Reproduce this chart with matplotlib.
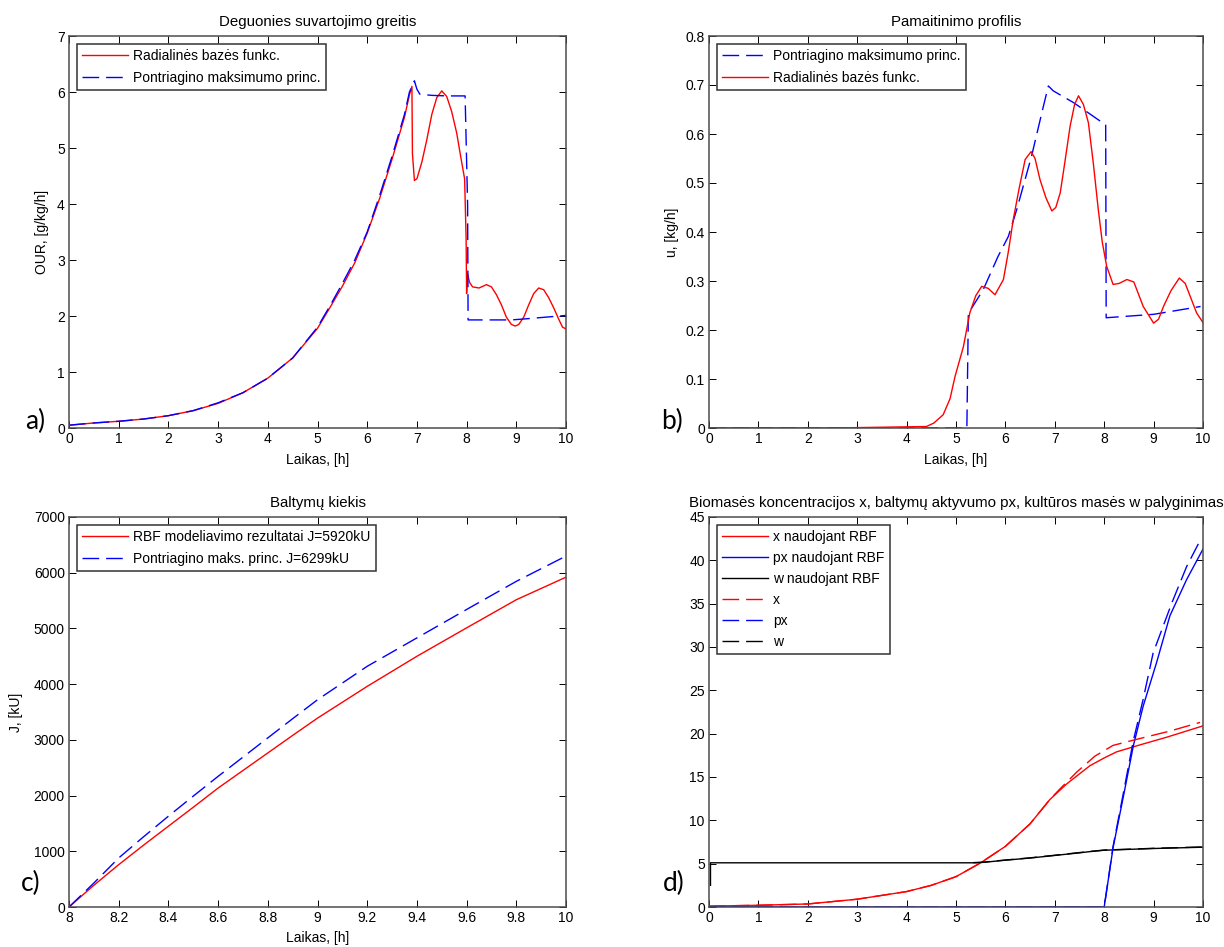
import numpy as np
import matplotlib
matplotlib.use('Agg')
import matplotlib.pyplot as plt
from matplotlib.ticker import FormatStrFormatter, MultipleLocator

plt.rcParams['font.family'] = ['Liberation Sans', 'DejaVu Sans']
plt.rcParams['font.size'] = 10

# a) deguonies suvartojimo greitis (OUR)
t_our_rbf = [0, 0.5, 1, 1.5, 2, 2.5, 3, 3.5, 4, 4.5, 5, 5.25, 5.5, 5.75, 6, 6.25, 6.5,
             6.75, 6.85, 6.9, 6.91, 6.95, 7.0, 7.1, 7.2, 7.3, 7.4, 7.5, 7.6, 7.7, 7.8,
             7.9, 7.96, 7.99, 8.0, 8.02, 8.06, 8.12, 8.25, 8.4, 8.5, 8.6, 8.7, 8.8,
             8.9, 8.98, 9.05, 9.15, 9.25, 9.35, 9.45, 9.55, 9.65, 9.75, 9.85, 9.93, 10]
our_rbf = [0.05, 0.09, 0.12, 0.16, 0.22, 0.31, 0.44, 0.63, 0.89, 1.25, 1.78, 2.15, 2.53,
           2.95, 3.48, 4.1, 4.8, 5.55, 5.95, 6.1, 4.9, 4.42, 4.45, 4.75, 5.15, 5.6, 5.9,
           6.02, 5.92, 5.65, 5.27, 4.75, 4.45, 3.4, 2.4, 2.75, 2.6, 2.52, 2.5, 2.56,
           2.52, 2.38, 2.2, 1.98, 1.85, 1.82, 1.85, 1.98, 2.2, 2.4, 2.5, 2.47, 2.33,
           2.15, 1.95, 1.8, 1.77]
t_our_pmp = [0, 0.5, 1, 1.5, 2, 2.5, 3, 3.5, 4, 4.5, 5, 5.25, 5.5, 5.75, 6, 6.25, 6.5,
             6.75, 6.85, 6.95, 7.0, 7.06, 7.3, 7.6, 7.97, 8.02, 8.03, 8.9, 9.2, 9.6, 10]
our_pmp = [0.05, 0.09, 0.12, 0.16, 0.22, 0.31, 0.45, 0.63, 0.89, 1.25, 1.8, 2.18, 2.58,
           3.0, 3.5, 4.15, 4.85, 5.6, 6.0, 6.2, 6.05, 5.96, 5.94, 5.93, 5.93, 4.0, 1.93,
           1.93, 1.95, 1.98, 2.01]

# b) pamaitinimo profilis
t_u_pmp = [0, 5.22, 5.25, 5.55, 5.85, 6.06, 6.23, 6.53, 6.77, 6.87, 6.97, 7.38, 7.91,
           8.03, 8.04, 9.0, 9.95]
u_pmp = [0, 0, 0.234, 0.282, 0.35, 0.391, 0.446, 0.555, 0.657, 0.698, 0.688, 0.664,
         0.627, 0.62, 0.225, 0.232, 0.248]
t_u_rbf = [0, 2.5, 4.4, 4.55, 4.74, 4.88, 4.98, 5.15, 5.28, 5.4, 5.52, 5.65, 5.79, 5.96,
           6.06, 6.16, 6.28, 6.4, 6.52, 6.6, 6.7, 6.82, 6.94, 7.02, 7.11, 7.2, 7.31, 7.4,
           7.48, 7.58, 7.68, 7.78, 7.88, 7.96, 8.05, 8.18, 8.3, 8.46, 8.6, 8.79, 9.0,
           9.1, 9.2, 9.35, 9.52, 9.64, 9.74, 9.87, 10]
u_rbf = [0, 0, 0.003, 0.01, 0.027, 0.06, 0.105, 0.166, 0.235, 0.27, 0.289, 0.285, 0.272,
         0.303, 0.36, 0.426, 0.49, 0.548, 0.564, 0.55, 0.507, 0.47, 0.443, 0.45, 0.48,
         0.54, 0.616, 0.66, 0.678, 0.66, 0.623, 0.54, 0.446, 0.38, 0.33, 0.293, 0.295,
         0.303, 0.298, 0.248, 0.214, 0.222, 0.248, 0.28, 0.306, 0.295, 0.269, 0.235, 0.215]

# c) baltymu kiekis
t_j = [8.0, 8.1, 8.2, 8.3, 8.4, 8.5, 8.6, 8.7, 8.8, 8.9, 9.0, 9.2, 9.4, 9.6, 9.8, 10.0]
j_rbf = [0, 390, 760, 1110, 1450, 1790, 2135, 2450, 2765, 3080, 3390, 3960, 4500, 5010,
         5515, 5920]
j_pmp = [0, 430, 880, 1260, 1630, 1990, 2345, 2690, 3035, 3380, 3720, 4320, 4830, 5340,
         5845, 6299]

# d) x, px, w palyginimas
t_x_rbf = [0, 1, 2, 3, 4, 4.5, 5, 5.5, 6, 6.5, 6.9, 7.24, 7.71, 8.0, 8.25, 8.66, 9.27, 10]
x_rbf = [0.1, 0.2, 0.35, 0.9, 1.78, 2.5, 3.5, 5.1, 7.0, 9.6, 12.4, 14.2, 16.3, 17.2,
         17.9, 18.6, 19.6, 20.9]
t_x_pmp = [0, 1, 2, 3, 4, 4.5, 5, 5.5, 6, 6.5, 6.9, 7.1, 7.45, 7.81, 8.18, 8.66, 9.33, 9.94]
x_pmp = [0.1, 0.2, 0.35, 0.9, 1.78, 2.5, 3.5, 5.1, 7.0, 9.6, 12.4, 13.6, 15.6, 17.4,
         18.65, 19.35, 20.3, 21.3]
t_px_rbf = [0, 8.0, 8.18, 8.39, 8.59, 8.79, 9.06, 9.33, 9.67, 10]
px_rbf = [0, 0, 6.85, 12.8, 18.6, 23.2, 28.2, 33.6, 37.8, 41.3]
t_px_pmp = [0, 8.0, 8.18, 8.39, 8.59, 8.79, 8.99, 9.37, 9.67, 9.96]
px_pmp = [0, 0, 7.0, 13.2, 19.2, 24.0, 29.3, 35.1, 39.3, 42.5]
t_w_rbf = [0.03, 0.03, 5.4, 5.55, 6.0, 6.5, 7.0, 7.5, 7.71, 8.0, 8.5, 9.0, 10]
w_rbf = [2.5, 5.1, 5.1, 5.15, 5.4, 5.65, 5.95, 6.25, 6.39, 6.55, 6.65, 6.75, 6.9]
t_w_pmp = [5.35, 5.55, 6.0, 6.5, 7.0, 7.5, 7.71, 8.0, 8.5, 9.0, 10]
w_pmp = [5.12, 5.17, 5.42, 5.67, 5.97, 6.28, 6.41, 6.57, 6.67, 6.77, 6.93]

DASH = (12, 5)
LW = 1.0

fig = plt.figure(figsize=(12.24, 9.47), dpi=100)
W, H = 1224.0, 947.0


def make_axes(x0, x1, y0, y1):
    ax = fig.add_axes([x0 / W, 1 - y1 / H, (x1 - x0) / W, (y1 - y0) / H])
    ax.tick_params(direction='in', top=True, right=True, length=5, width=0.7,
                   labelsize=10, pad=3)
    for s in ax.spines.values():
        s.set_color('0.3')
        s.set_linewidth(1.1)
    return ax


def add_legend(ax, spacing=0.55):
    leg = ax.legend(loc='upper left', handlelength=3.3, fontsize=10, fancybox=False,
                    framealpha=1, edgecolor='0.2', borderaxespad=0.55,
                    labelspacing=spacing, borderpad=0.4, handletextpad=0.35)
    leg.get_frame().set_linewidth(1.1)
    return leg


TFS = 10.8

# a)
ax = make_axes(69, 566, 36, 428)
ax.plot(t_our_rbf, our_rbf, color='r', lw=LW, label='Radialinės bazės funkc.')
ax.plot(t_our_pmp, our_pmp, color='b', lw=LW, dashes=DASH, label='Pontriagino maksimumo princ.')
ax.set_xlim(0, 10)
ax.set_ylim(0, 7)
ax.xaxis.set_major_locator(MultipleLocator(1))
ax.yaxis.set_major_locator(MultipleLocator(1))
ax.set_title('Deguonies suvartojimo greitis', fontsize=TFS, pad=7)
ax.set_xlabel('Laikas, [h]', labelpad=5)
ax.set_ylabel('OUR, [g/kg/h]', labelpad=6)
add_legend(ax)

# b)
ax = make_axes(709, 1203, 36, 428)
ax.plot(t_u_pmp, u_pmp, color='b', lw=LW, dashes=DASH, label='Pontriagino maksimumo princ.')
ax.plot(t_u_rbf, u_rbf, color='r', lw=LW, label='Radialinės bazės funkc.')
ax.set_xlim(0, 10)
ax.set_ylim(0, 0.8)
ax.xaxis.set_major_locator(MultipleLocator(1))
ax.yaxis.set_major_locator(MultipleLocator(0.1))
ax.yaxis.set_major_formatter(FormatStrFormatter('%g'))
ax.set_title('Pamaitinimo profilis', fontsize=TFS, pad=7)
ax.set_xlabel('Laikas, [h]', labelpad=5)
ax.set_ylabel('u, [kg/h]', labelpad=5)
add_legend(ax)

# c)
ax = make_axes(69, 566, 517, 907)
ax.plot(t_j, j_rbf, color='r', lw=LW, label='RBF modeliavimo rezultatai J=5920kU')
ax.plot(t_j, j_pmp, color='b', lw=LW, dashes=DASH, label='Pontriagino maks. princ. J=6299kU')
ax.set_xlim(8, 10)
ax.set_ylim(0, 7000)
ax.xaxis.set_major_locator(MultipleLocator(0.2))
ax.xaxis.set_major_formatter(FormatStrFormatter('%g'))
ax.yaxis.set_major_locator(MultipleLocator(1000))
ax.set_title('Baltymų kiekis', fontsize=TFS, pad=7)
ax.set_xlabel('Laikas, [h]', labelpad=4)
ax.set_ylabel('J, [kU]', labelpad=8)
add_legend(ax)

# d)
ax = make_axes(709, 1203, 517, 907)
ax.plot(t_x_rbf, x_rbf, color='r', lw=LW, label='x naudojant RBF')
ax.plot(t_px_rbf, px_rbf, color='b', lw=LW, label='px naudojant RBF')
ax.plot(t_w_rbf, w_rbf, color='k', lw=LW, label='w naudojant RBF')
ax.plot(t_x_pmp, x_pmp, color='r', lw=LW, dashes=DASH, label='x')
ax.plot(t_px_pmp, px_pmp, color='b', lw=LW, dashes=DASH, label='px')
ax.plot(t_w_pmp, w_pmp, color='k', lw=LW, dashes=DASH, label='w')
ax.set_xlim(0, 10)
ax.set_ylim(0, 45)
ax.xaxis.set_major_locator(MultipleLocator(1))
ax.yaxis.set_major_locator(MultipleLocator(5))
ax.set_title('Biomasės koncentracijos x, baltymų aktyvumo px, kultūros masės w palyginimas',
             fontsize=TFS, pad=7)
add_legend(ax, spacing=0.5)

# panel letters
for lab, x, y in [('a)', 35, 421), ('b)', 672, 421), ('c)', 31, 883), ('d)', 674, 883)]:
    fig.text(x / W, 1 - y / H, lab, fontsize=19, family=['Lato', 'DejaVu Sans'],
             ha='center', va='center')

fig.savefig('out.png', dpi=100)
